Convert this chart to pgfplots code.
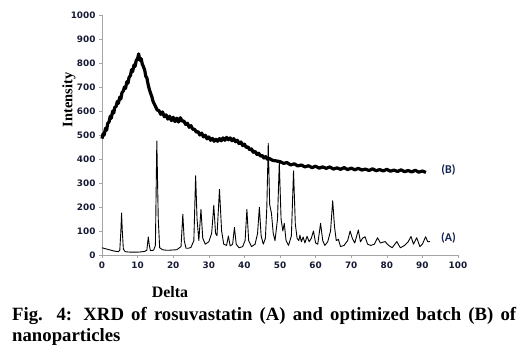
\documentclass[border=0pt]{standalone}
\usepackage{fontspec}
\setmainfont{Liberation Serif}
\newfontfamily\tickfont{DejaVu Sans}
\newfontfamily\labfont{Carlito}
\usepackage{pgfplots}
\pgfplotsset{compat=1.18}
\definecolor{navy}{RGB}{22,26,52}
\definecolor{labnavy}{RGB}{20,35,75}
\definecolor{axgray}{RGB}{165,165,165}
\begin{document}
\begin{tikzpicture}
\path[use as bounding box] (-102bp,-100bp) rectangle (420bp,255bp);
\begin{axis}[
  scale only axis, width=356bp, height=240bp,
  xmin=0, xmax=100, ymin=0, ymax=1000,
  xtick={0,10,...,100}, ytick={0,100,...,1000},
  axis x line*=bottom, axis y line*=left,
  axis line style={axgray, line width=0.6pt, -},
  tick style={axgray, line width=0.6pt},
  tick align=outside, major tick length=3bp,
  /pgf/number format/assume math mode=true,
  /pgf/number format/1000 sep={},
  ticklabel style={font=\tickfont\bfseries\fontsize{8.9}{10}\selectfont, text=navy},
  clip=false,
]
% (A) rosuvastatin
\addplot[black, line width=0.9pt, line join=round] coordinates {
(0,30)(1,26)(2,22)(3,18)(4,15)(4.6,14)(5.0,20)(5.3,100)(5.5,175)(5.7,100)(6.0,25)(6.5,14)
(7,13)(8,12)(9,12)(10,12)(11,13)(12,15)(12.6,20)(13.0,75)(13.3,40)(13.6,18)
(14.5,20)(15.0,40)(15.4,475)(15.8,150)(16.2,30)(17,22)(18,20)(19,20)(20,21)(21,22)
(22.2,35)(22.7,170)(23.1,60)(23.6,28)(24.3,28)(25,32)(25.8,60)(26.3,330)(26.7,150)(27.2,60)
(27.8,190)(28.3,70)(29,45)(30,55)(30.8,90)(31.4,207)(31.9,90)(32.3,80)(33.0,274)(33.6,100)
(34.2,45)(35,40)(35.5,79)(36,38)(36.7,45)(37.2,115)(37.7,45)(38.5,30)(39.5,35)(40.2,60)
(40.7,190)(41.2,60)(42,35)(43,45)(43.7,90)(44.2,199)(44.7,80)(45.3,45)(45.9,70)(46.3,200)
(46.7,465)(47.1,210)(47.6,174)(48.1,90)(48.6,60)(49.3,150)(49.8,385)(50.3,150)(50.8,100)
(51.2,132)(51.7,60)(52.4,40)(53.2,80)(53.8,351)(54.3,130)(54.8,70)(55.3,60)(55.6,83)(56,55)
(56.5,75)(57,50)(57.6,78)(58.2,55)(58.8,70)(59.4,100)(60,50)(60.6,45)(61.4,132)(62,60)
(62.6,40)(63.4,55)(64.2,100)(64.8,226)(65.3,120)(65.8,60)(66.4,65)(67,35)(68,40)(69,60)
(69.7,100)(70.3,70)(71,50)(72,104)(72.6,55)(73.2,70)(73.9,76)(74.6,45)(75.5,40)(76.5,45)
(77.4,72)(78.2,50)(79.5,56)(80.5,40)(81.5,30)(82.8,56)(83.8,30)(85,40)(86,55)(86.8,77)
(87.5,45)(88.4,72)(89.3,35)(90,45)(90.9,76)(91.5,55)(92.1,56)
};
% (B) optimized batch
\addplot[black, line width=3.2pt, line join=round] coordinates {
(0,485)(0.3,505)(0.6,500)(1,528)(1.3,520)(1.6,548)(2,555)(2.3,578)(2.6,570)(3,600)
(3.3,592)(3.6,615)(4,620)(4.3,640)(4.6,632)(5,658)(5.3,650)(5.6,676)(6,684)(6.3,700)
(6.6,694)(7,722)(7.3,716)(7.6,740)(8,748)(8.3,772)(8.6,764)(9,792)(9.3,786)(9.6,810)
(10,818)(10.3,838)(10.6,812)(11,818)(11.3,796)(11.6,786)(12,770)(12.3,745)(12.6,738)
(13,708)(13.3,690)(13.6,676)(14,660)(14.3,642)(14.6,632)(15,620)(15.5,604)(16,602)
(16.5,586)(17,596)(17.5,576)(18,584)(18.5,566)(19,578)(19.5,560)(20,574)(20.5,556)
(21,570)(21.5,554)(22,572)(22.5,558)(23,558)(23.5,544)(24,549)(24.5,532)(25,539)
(25.5,524)(26,524)(26.5,512)(27,514)(27.5,500)(28,508)(28.5,492)(29,499)(29.5,484)
(30,492)(30.5,478)(31,486)(31.5,474)(32,482)(32.5,474)(33,485)(33.5,476)(34,488)
(34.5,478)(35,490)(35.5,480)(36,488)(36.5,476)(37,485)(37.5,472)(38,478)(38.5,464)
(39,471)(39.5,456)(40,462)(40.5,448)(41,451)(41.5,438)(42,442)(42.5,428)(43,432)
(43.5,419)(44,424)(44.5,412)(45,415)(45.5,404)(46,410)(46.5,398)(47,402)(48,394)
(49,392)(50,389)(51,382)(52,385)(53,375)(54,380)(55,371)(56,375)(57,367)(58,372)
(59,364)(60,370)(61,362)(62,367)(63,361)(64,367)(65,358)(66,363)(67,357)(68,364)
(69,356)(70,362)(71,355)(72,361)(73,354)(74,358)(75,352)(76,359)(77,351)(78,356)
(79,350)(80,357)(81,349)(82,354)(83,348)(84,355)(85,347)(86,352)(87,346)(88,353)
(89,345)(90,350)(91,344)
};
\node[font=\labfont\bfseries\fontsize{12}{13}\selectfont, text=labnavy] at (axis cs:97.3,355) {(B)};
\node[font=\labfont\bfseries\fontsize{12}{13}\selectfont, text=labnavy] at (axis cs:97.3,70) {(A)};
\end{axis}
\node[rotate=90, font=\bfseries\fontsize{14.5}{16}\selectfont] at (-33bp,155bp) {Intensity};
\node[font=\bfseries\fontsize{16}{18}\selectfont] at (68bp,-37bp) {Delta};
\node[anchor=base west, inner sep=0pt, font=\bfseries\fontsize{18.8}{21}\selectfont] at (-90bp,-65.5bp)
  {\makebox[504bp][s]{Fig. 4: XRD of rosuvastatin (A) and optimized batch (B) of}};
\node[anchor=base west, inner sep=0pt, font=\bfseries\fontsize{18.8}{21}\selectfont] at (-90bp,-86.5bp)
  {nanoparticles};
\end{tikzpicture}
\end{document}
